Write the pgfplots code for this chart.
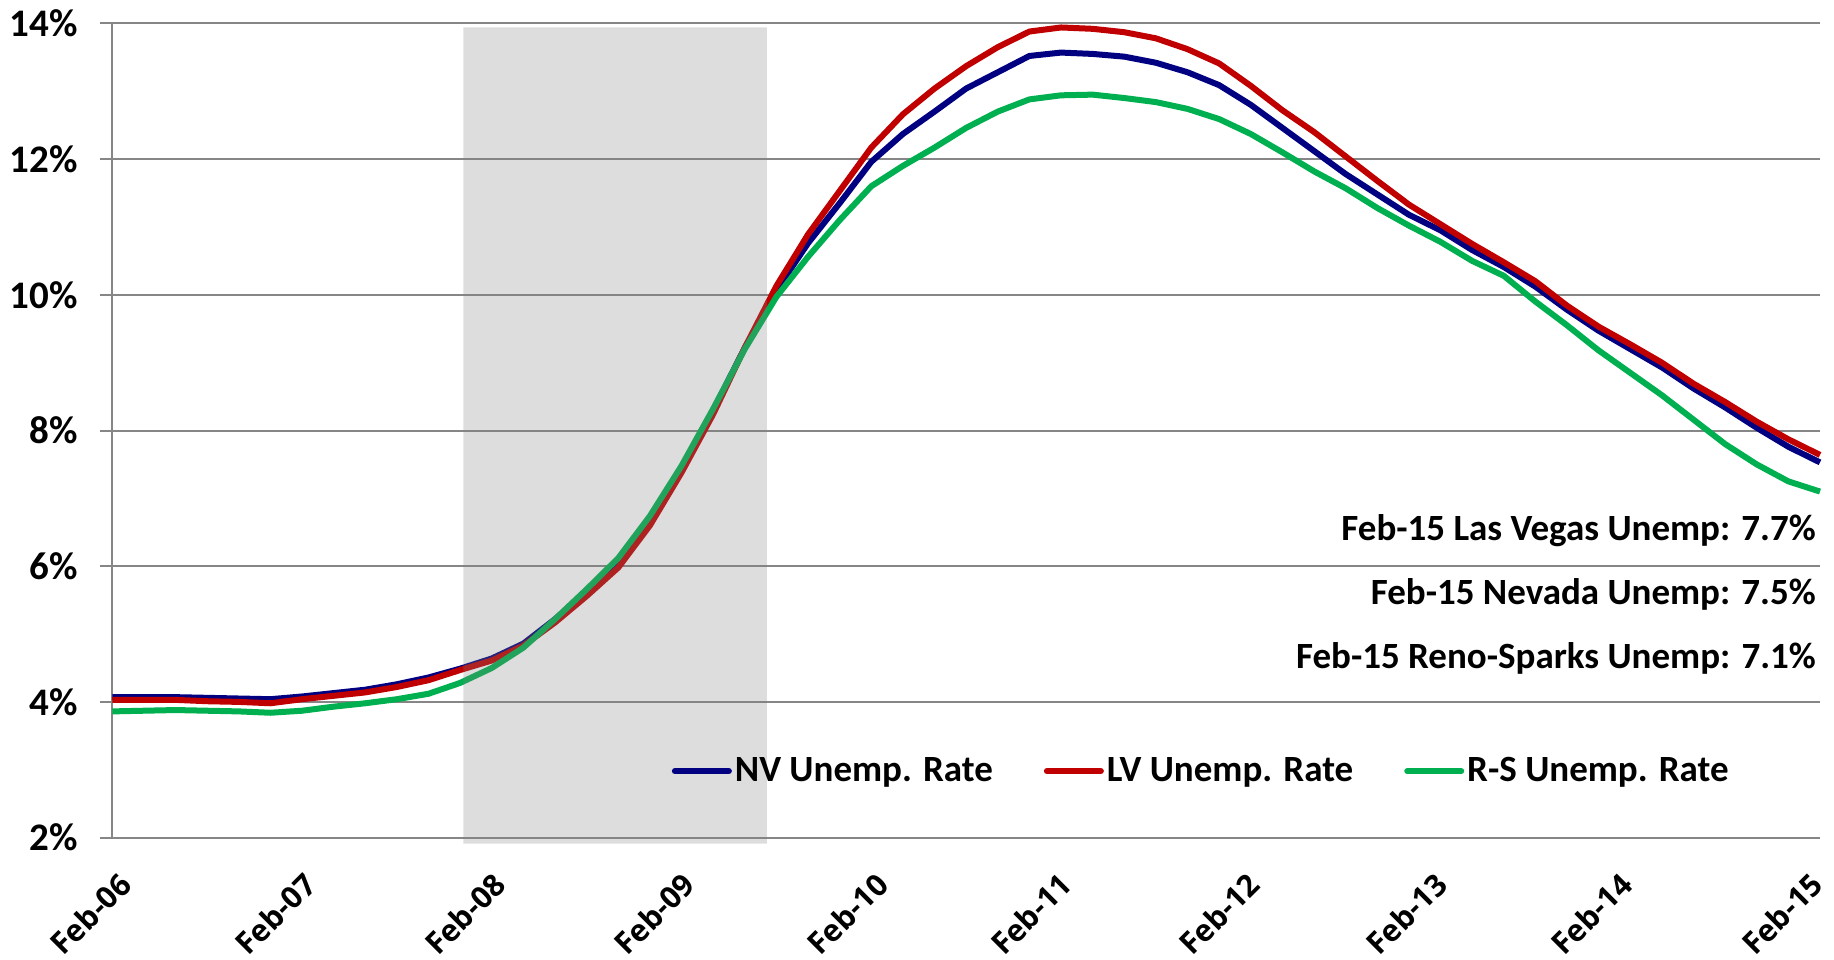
\documentclass[border=0pt]{standalone}
\usepackage{fontspec}
\setmainfont{Carlito}
\newfontfamily\tickfont{Open Sans}
\usepackage{pgfplots}
\pgfplotsset{compat=1.18}
\usepackage{pgfplotstable}
\definecolor{nvblue}{RGB}{0,0,128}
\definecolor{lvred}{RGB}{192,0,0}
\definecolor{rsgreen}{RGB}{0,176,80}
\definecolor{gridgray}{RGB}{134,134,134}

\pgfplotstableread{
m   nv     lv     rs
0   4.07   4.03   3.86
2   4.07   4.03   3.87
4   4.07   4.03   3.88
6   4.06   4.01   3.87
8   4.05   4.00   3.86
10  4.04   3.98   3.84
12  4.08   4.04   3.87
14  4.13   4.09   3.93
16  4.18   4.14   3.98
18  4.26   4.22   4.04
20  4.36   4.32   4.12
22  4.49   4.47   4.28
24  4.64   4.61   4.50
26  4.86   4.83   4.80
28  5.22   5.17   5.22
30  5.63   5.56   5.66
32  6.08   5.98   6.12
34  6.70   6.60   6.74
36  7.45   7.38   7.48
38  8.30   8.24   8.32
40  9.22   9.22   9.20
42  10.07  10.13  9.97
44  10.76  10.89  10.56
46  11.35  11.53  11.10
48  11.96  12.17  11.60
50  12.37  12.66  11.90
52  12.70  13.04  12.17
54  13.04  13.37  12.46
56  13.28  13.65  12.70
58  13.52  13.88  12.88
60  13.57  13.94  12.94
62  13.55  13.92  12.95
64  13.51  13.87  12.90
66  13.42  13.78  12.84
68  13.28  13.62  12.74
70  13.09  13.41  12.59
72  12.80  13.08  12.37
74  12.46  12.72  12.10
76  12.12  12.40  11.82
78  11.78  12.04  11.57
80  11.48  11.68  11.28
82  11.18  11.33  11.02
84  10.95  11.04  10.78
86  10.66  10.75  10.50
88  10.41  10.48  10.28
90  10.12  10.20  9.90
92  9.78   9.84   9.55
94  9.47   9.53   9.18
96  9.20   9.27   8.85
98  8.93   9.00   8.52
100 8.62   8.69   8.16
102 8.34   8.42   7.80
104 8.04   8.13   7.50
106 7.76   7.87   7.25
108 7.53   7.64   7.10
}\datatable

\tikzset{xlab/.style={rotate=45, anchor=east, inner sep=0pt, font=\tickfont\fontsize{15.2}{18}\selectfont\bfseries}}

\begin{document}
\begin{tikzpicture}
\begin{axis}[
  scale only axis,
  width=853.85pt, height=407.1pt,
  xmin=0, xmax=108, ymin=2, ymax=14,
  clip=false,
  axis x line=bottom, axis y line=left,
  axis line style={-, draw=gridgray, line width=1pt},
  ytick={2,4,6,8,10,12,14},
  yticklabels={2\%,4\%,6\%,8\%,10\%,12\%,14\%},
  ymajorgrids,
  grid style={gridgray, line width=1pt},
  tick align=outside,
  major tick length=6pt,
  ytick style={gridgray, line width=1pt},
  xtick=\empty,
  yticklabel style={font=\fontsize{19.5}{22}\selectfont\bfseries, inner sep=0pt, anchor=east},
  yticklabel shift=11pt,
  legend style={draw=none, fill=none, at={(axis cs:68.9,2.98)}, anchor=center,
    font=\fontsize{18.5}{21}\selectfont\bfseries,
    /tikz/every even column/.append style={column sep=24pt},
    nodes={inner sep=1.5pt}},
  legend columns=3,
  legend image code/.code={\draw[#1, line cap=round] (0pt,0pt) -- (27pt,0pt);},
  every axis plot/.append style={line width=3pt, line join=round},
]
\addplot[nvblue] table[x=m, y=nv] {\datatable};
\addlegendentry{NV Unemp. Rate}
\addplot[lvred] table[x=m, y=lv] {\datatable};
\addlegendentry{LV Unemp. Rate}
\addplot[rsgreen] table[x=m, y=rs] {\datatable};
\addlegendentry{R-S Unemp. Rate}
\addplot[draw=none, fill=gray, fill opacity=0.27, forget plot]
  coordinates {(22.2,1.91) (41.4,1.91) (41.4,13.94) (22.2,13.94) (22.2,1.91)};
\node[anchor=east, inner sep=0pt, font=\fontsize{18.5}{21}\selectfont\bfseries] at (axis cs:107.76,6.53) {Feb-15 Las Vegas Unemp: 7.7\%};
\node[anchor=east, inner sep=0pt, font=\fontsize{18.5}{21}\selectfont\bfseries] at (axis cs:107.76,5.59) {Feb-15 Nevada Unemp: 7.5\%};
\node[anchor=east, inner sep=0pt, font=\fontsize{18.5}{21}\selectfont\bfseries] at (axis cs:107.76,4.64) {Feb-15 Reno-Sparks Unemp: 7.1\%};
\node[xlab] at ([yshift=-20.7pt]axis cs:0.85,2) {Feb-06};
\node[xlab] at ([yshift=-20.7pt]axis cs:12.54,2) {Feb-07};
\node[xlab] at ([yshift=-20.7pt]axis cs:24.52,2) {Feb-08};
\node[xlab] at ([yshift=-20.7pt]axis cs:36.50,2) {Feb-09};
\node[xlab] at ([yshift=-20.7pt]axis cs:48.71,2) {Feb-10};
\node[xlab] at ([yshift=-20.7pt]axis cs:60.32,2) {Feb-11};
\node[xlab] at ([yshift=-20.7pt]axis cs:72.23,2) {Feb-12};
\node[xlab] at ([yshift=-20.7pt]axis cs:84.07,2) {Feb-13};
\node[xlab] at ([yshift=-20.7pt]axis cs:95.76,2) {Feb-14};
\node[xlab] at ([yshift=-20.7pt]axis cs:107.82,2) {Feb-15};
\path (rel axis cs:0,0) ++(-56.15pt,-60.7pt);
\path (rel axis cs:1,1) ++(7pt,11.7pt);
\end{axis}
\end{tikzpicture}
\end{document}
